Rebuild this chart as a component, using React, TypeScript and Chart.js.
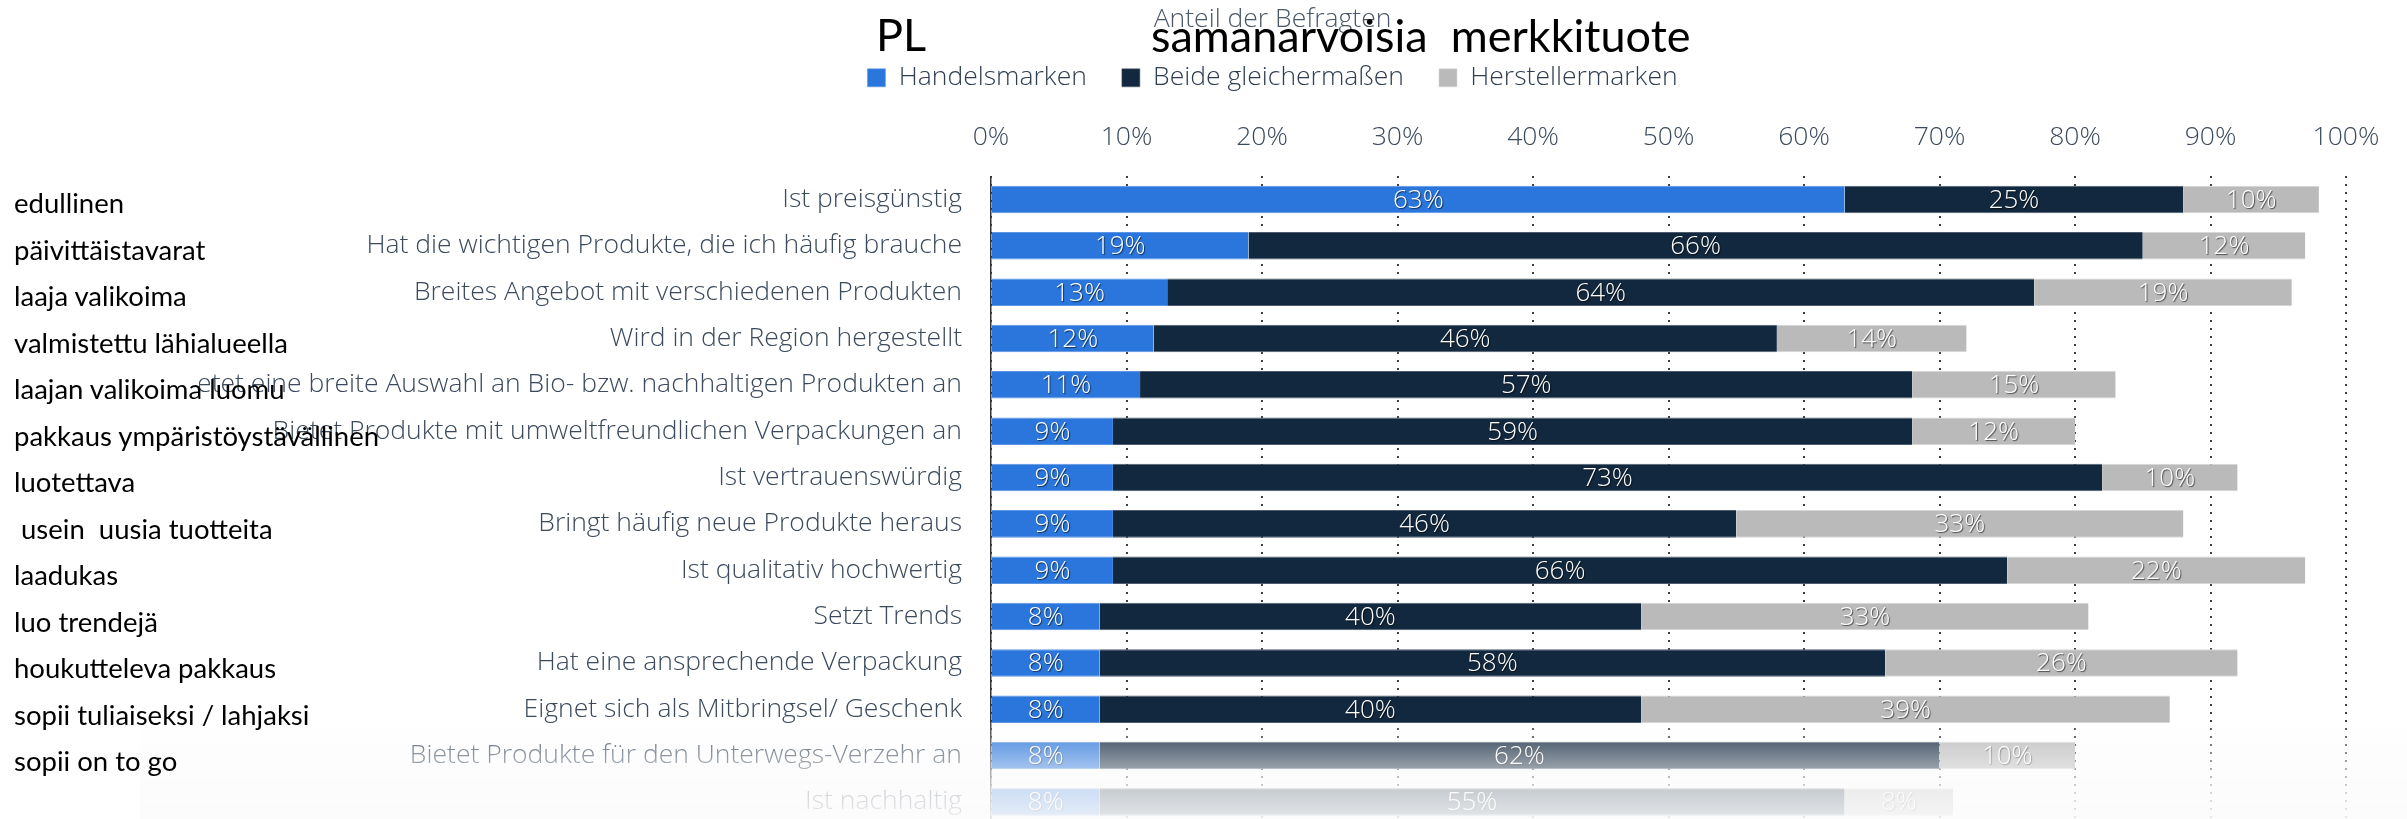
import React, { useEffect, useRef } from "react";
import { Chart, registerables } from "chart.js";

Chart.register(...registerables);

const categories = [
  "Ist preisgünstig",
  "Hat die wichtigen Produkte, die ich häufig brauche",
  "Breites Angebot mit verschiedenen Produkten",
  "Wird in der Region hergestellt",
  "Bietet eine breite Auswahl an Bio- bzw. nachhaltigen Produkten an",
  "Bietet Produkte mit umweltfreundlichen Verpackungen an",
  "Ist vertrauenswürdig",
  "Bringt häufig neue Produkte heraus",
  "Ist qualitativ hochwertig",
  "Setzt Trends",
  "Hat eine ansprechende Verpackung",
  "Eignet sich als Mitbringsel/ Geschenk",
  "Bietet Produkte für den Unterwegs-Verzehr an",
  "Ist nachhaltig",
];

const handelsmarken = [63, 19, 13, 12, 11, 9, 9, 9, 9, 8, 8, 8, 8, 8];
const beideGleichermassen = [25, 66, 64, 46, 57, 59, 73, 46, 66, 40, 58, 40, 62, 55];
const herstellermarken = [10, 12, 19, 14, 15, 12, 10, 33, 22, 33, 26, 39, 10, 8];

const seriesNames = ["Handelsmarken", "Beide gleichermaßen", "Herstellermarken"];

const finnishLabels = [
  "edullinen",
  "päivittäistavarat",
  "laaja valikoima",
  "valmistettu lähialueella",
  "laajan valikoima luomu",
  "pakkaus ympäristöystävällinen",
  "luotettava",
  " usein  uusia tuotteita",
  "laadukas",
  "luo trendejä",
  "houkutteleva pakkaus",
  "sopii tuliaiseksi / lahjaksi",
  "sopii on to go",
];

const chartTitle = "Anteil der Befragten";
const titlePL = "PL";
const titleRight = "samanarvoisia  merkkituote";

const TEXT_COLOR = "#3b4a5c";
const SANS = "'Open Sans', 'Noto Sans', sans-serif";
const FONT_SIZE = 26.5;

const segLabelPlugin = {
  id: "segLabels",
  afterDatasetsDraw(chart: any) {
    const { ctx } = chart;
    ctx.save();
    ctx.font = `300 26px ${SANS}`;
    ctx.fillStyle = "#ffffff";
    ctx.textAlign = "center";
    ctx.textBaseline = "middle";
    ctx.shadowColor = "rgba(0,0,0,0.6)";
    ctx.shadowOffsetX = 1;
    ctx.shadowOffsetY = 1;
    ctx.shadowBlur = 1;
    chart.data.datasets.forEach((ds: any, di: number) => {
      const meta = chart.getDatasetMeta(di);
      meta.data.forEach((bar: any, i: number) => {
        const v = ds.data[i];
        const x = (bar.x + bar.base) / 2;
        ctx.fillText(`${v}%`, x, bar.y + 1);
      });
    });
    ctx.restore();
  },
};

const fadePlugin = {
  id: "fadeOverlay",
  afterDraw(chart: any) {
    const { ctx } = chart;
    const y0 = 723;
    const y1 = 830;
    const g = ctx.createLinearGradient(0, y0, 0, y1);
    g.addColorStop(0, "rgba(251,251,251,0.10)");
    g.addColorStop(0.187, "rgba(251,251,251,0.30)");
    g.addColorStop(0.439, "rgba(251,251,251,0.59)");
    g.addColorStop(0.626, "rgba(251,251,251,0.78)");
    g.addColorStop(0.897, "rgba(251,251,251,0.90)");
    g.addColorStop(1, "rgba(251,251,251,0.92)");
    ctx.save();
    ctx.fillStyle = g;
    ctx.fillRect(140, y0, chart.width - 140, chart.height - y0);
    ctx.restore();
  },
};

export default function App() {
  const ref = useRef<HTMLCanvasElement>(null);

  useEffect(() => {
    const canvas = ref.current;
    if (!canvas) return;
    const tickFont = { family: SANS, size: FONT_SIZE, weight: "300" as any };
    const common = {
      borderWidth: { top: 1, bottom: 1, left: 0, right: 0 },
      borderSkipped: false,
      categoryPercentage: 0.6,
      barPercentage: 0.99,
    };
    const chart = new Chart(canvas, {
      type: "bar",
      data: {
        labels: categories,
        datasets: [
          { label: seriesNames[0], data: handelsmarken, backgroundColor: "#2a76dc", borderColor: "#5b96e4", ...common },
          { label: seriesNames[1], data: beideGleichermassen, backgroundColor: "#12283e", borderColor: "#4d5c6e", ...common },
          { label: seriesNames[2], data: herstellermarken, backgroundColor: "#bababa", borderColor: "#d6d6d6", ...common },
        ],
      },
      options: {
        animation: false,
        responsive: false,
        indexAxis: "y",
        layout: { padding: { left: 199, right: 61, top: 0, bottom: 0 } },
        plugins: {
          title: {
            display: true,
            text: chartTitle,
            color: "#4a5868",
            font: { family: SANS, size: FONT_SIZE, weight: "300" as any, lineHeight: 0.8 },
            padding: { top: 8.4, bottom: 0 },
          },
          legend: {
            display: true,
            position: "top",
            labels: {
              boxWidth: 18,
              boxHeight: 18,
              padding: 35,
              color: "#2f3e51",
              font: tickFont,
            },
          },
          tooltip: { enabled: false },
        },
        scales: {
          x: {
            position: "top",
            stacked: true,
            min: 0,
            max: 100,
            ticks: {
              stepSize: 10,
              padding: 23.4,
              color: TEXT_COLOR,
              font: tickFont,
              maxRotation: 0,
              autoSkip: false,
              callback: (v: any) => `${v}%`,
            },
            grid: { display: true, drawTicks: false, color: "#404040", lineWidth: 2 },
            border: { display: false, dash: [2, 6] },
            afterFit: (s: any) => {
              s.height = 75.2;
            },
          },
          y: {
            stacked: true,
            ticks: {
              padding: 29,
              autoSkip: false,
              color: TEXT_COLOR,
              font: tickFont,
            },
            grid: { display: false, drawTicks: false },
            border: { display: true, color: "#333333", width: 1.5 },
            afterFit: (s: any) => {
              s.width = 792;
            },
          },
        },
      },
      plugins: [segLabelPlugin, fadePlugin],
    } as any);
    return () => chart.destroy();
  }, []);

  const calibriLike = "Lato, 'Open Sans', sans-serif";

  return (
    <div
      style={{
        position: "fixed",
        left: 0,
        top: 0,
        width: 2407,
        height: 819,
        overflow: "hidden",
        background: "#ffffff",
      }}
    >
      <canvas ref={ref} width={2407} height={870} style={{ position: "absolute", left: 0, top: 0 }} />
      <div
        style={{
          position: "absolute",
          left: 876,
          top: 12,
          fontFamily: calibriLike,
          fontSize: 45,
          lineHeight: "45px",
          color: "#000",
          whiteSpace: "pre",
        }}
      >
        {titlePL}
      </div>
      <div
        style={{
          position: "absolute",
          left: 1151,
          top: 13,
          fontFamily: calibriLike,
          fontSize: 45,
          lineHeight: "45px",
          color: "#000",
          whiteSpace: "pre",
        }}
      >
        {titleRight}
      </div>
      {finnishLabels.map((t, i) => (
        <div
          key={i}
          style={{
            position: "absolute",
            left: 14,
            top: 213.7 + i * 46.5 - 24.4,
            fontFamily: calibriLike,
            fontSize: 27.5,
            lineHeight: "27.5px",
            color: "#000",
            whiteSpace: "pre",
          }}
        >
          {t}
        </div>
      ))}
    </div>
  );
}
